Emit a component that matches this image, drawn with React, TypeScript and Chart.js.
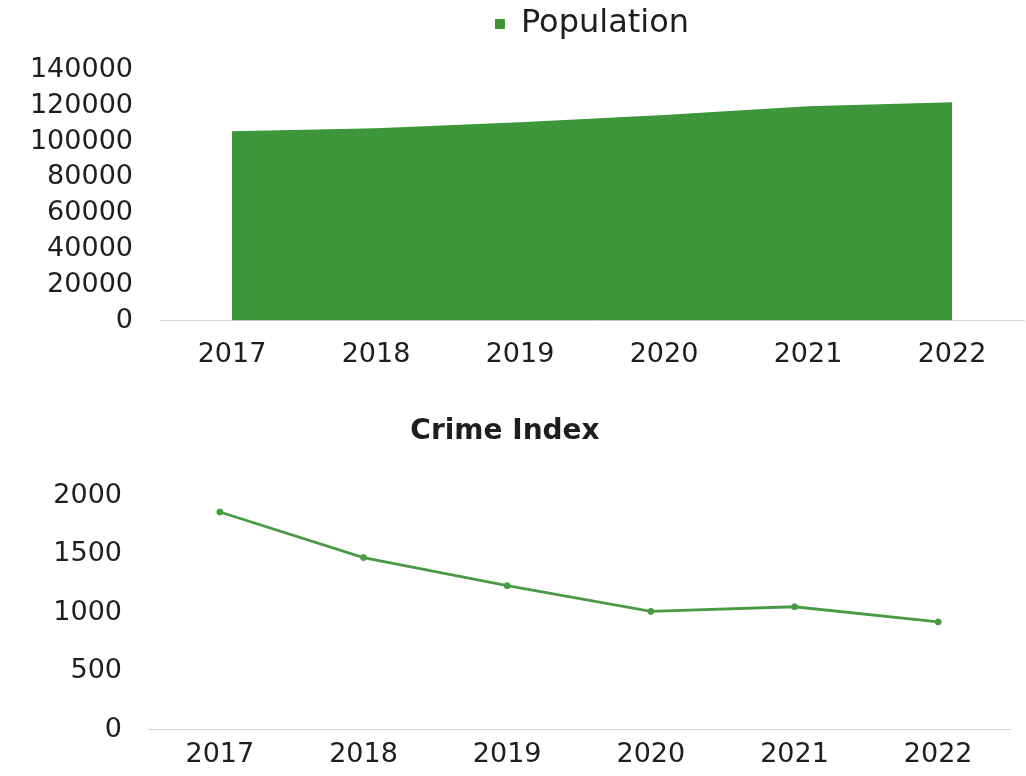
import React, { useEffect, useRef } from "react";
import { Chart, registerables } from "chart.js";

Chart.register(...registerables);

const years = ["2017", "2018", "2019", "2020", "2021", "2022"];
const population = [105800, 107500, 110800, 114800, 119800, 122000];
const crimeIndex = [1860, 1470, 1230, 1010, 1050, 920];
const populationTicks = [0, 20000, 40000, 60000, 80000, 100000, 120000, 140000];
const crimeTicks = [0, 500, 1000, 1500, 2000];

const FONT = "'DejaVu Sans', sans-serif";
const TEXT = "#1e1e1e";
const GREEN = "#3d9639";
const LINE_GREEN = "#4a9a45";
const AXIS = "#d2d2d2";

const legendSpacer = {
  id: "legendSpacer",
  beforeInit(chart: any) {
    if (!chart.legend) return;
    const orig = chart.legend.fit;
    chart.legend.fit = function () {
      orig.call(this);
      this.height += 20;
    };
  },
};

function TopChart() {
  const ref = useRef<HTMLCanvasElement>(null);
  useEffect(() => {
    const chart = new Chart(ref.current!, {
      type: "line",
      data: {
        labels: years,
        datasets: [
          {
            label: "Population",
            data: population,
            fill: "origin",
            backgroundColor: GREEN,
            borderColor: GREEN,
            borderWidth: 0,
            pointRadius: 0,
            tension: 0,
          },
        ],
      },
      options: {
        responsive: false,
        animation: false,
        layout: { padding: { left: 0, right: 2, top: 0, bottom: 0 } },
        plugins: {
          tooltip: { enabled: false },
          legend: {
            display: true,
            position: "top",
            fullSize: false,
            labels: {
              boxWidth: 10,
              boxHeight: 10,
              padding: 8,
              color: TEXT,
              font: { family: FONT, size: 32 },
            },
          },
        },
        scales: {
          x: {
            offset: true,
            grid: { display: false, drawTicks: false },
            border: { display: true, color: AXIS, width: 1 },
            ticks: { color: TEXT, font: { family: FONT, size: 27 }, padding: 18, maxRotation: 0 },
          },
          y: {
            min: 0,
            max: 140000,
            afterFit: (s: any) => {
              s.width = 160;
            },
            afterBuildTicks: (s: any) => {
              s.ticks = populationTicks.map((v) => ({ value: v }));
            },
            grid: { display: false, drawTicks: false },
            border: { display: false },
            ticks: {
              autoSkip: false,
              color: TEXT,
              font: { family: FONT, size: 27 },
              padding: 27,
              callback: (v: any) => String(v),
            },
          },
        },
      },
      plugins: [legendSpacer],
    });
    return () => chart.destroy();
  }, []);
  return <canvas ref={ref} width={1026} height={389} style={{ position: "absolute", left: 0, top: 0 }} />;
}

function BottomChart() {
  const ref = useRef<HTMLCanvasElement>(null);
  useEffect(() => {
    const chart = new Chart(ref.current!, {
      type: "line",
      data: {
        labels: years,
        datasets: [
          {
            label: "Crime Index",
            data: crimeIndex,
            fill: false,
            borderColor: LINE_GREEN,
            backgroundColor: LINE_GREEN,
            borderWidth: 2.8,
            pointRadius: 3,
            pointBorderWidth: 1,
            tension: 0,
          },
        ],
      },
      options: {
        responsive: false,
        animation: false,
        layout: { padding: { left: 0, right: 16, top: 0, bottom: 0 } },
        plugins: {
          tooltip: { enabled: false },
          legend: { display: false },
          title: {
            display: true,
            text: "Crime Index",
            color: TEXT,
            font: { family: FONT, size: 28, weight: "bold" },
            padding: { top: 35, bottom: 47 },
          },
        },
        scales: {
          x: {
            offset: true,
            grid: { display: false, drawTicks: false },
            border: { display: true, color: AXIS, width: 1 },
            ticks: { color: TEXT, font: { family: FONT, size: 27 }, padding: 9, maxRotation: 0 },
          },
          y: {
            min: 0,
            max: 2000,
            afterFit: (s: any) => {
              s.width = 148;
            },
            afterBuildTicks: (s: any) => {
              s.ticks = crimeTicks.map((v) => ({ value: v }));
            },
            grid: { display: false, drawTicks: false },
            border: { display: false },
            ticks: {
              autoSkip: false,
              color: TEXT,
              font: { family: FONT, size: 27 },
              padding: 26,
              callback: (v: any) => String(v),
            },
          },
        },
      },
    });
    return () => chart.destroy();
  }, []);
  return <canvas ref={ref} width={1026} height={400} style={{ position: "absolute", left: 0, top: 380 }} />;
}

export default function App() {
  return (
    <div style={{ position: "absolute", left: 0, top: 0, width: 1026, height: 776, overflow: "hidden", background: "#fff" }}>
      <TopChart />
      <BottomChart />
    </div>
  );
}
